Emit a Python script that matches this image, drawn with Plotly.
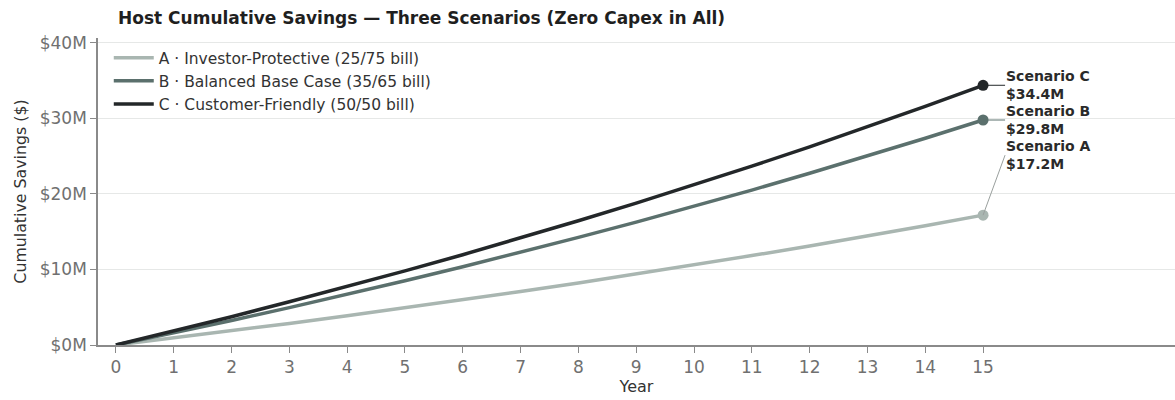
import plotly.graph_objects as go

years = list(range(0, 16))
scenario_a = [0, 0.92, 1.88, 2.86, 3.87, 4.91, 5.98, 7.09, 8.22, 9.40, 10.60, 11.84, 13.12, 14.44, 15.80, 17.20]
scenario_b = [0, 1.60, 3.25, 4.95, 6.70, 8.51, 10.36, 12.28, 14.25, 16.28, 18.37, 20.52, 22.74, 25.02, 27.38, 29.80]
scenario_c = [0, 1.85, 3.75, 5.72, 7.74, 9.82, 11.96, 14.17, 16.45, 18.79, 21.20, 23.69, 26.25, 28.89, 31.60, 34.40]

names = ["A · Investor-Protective (25/75 bill)",
         "B · Balanced Base Case (35/65 bill)",
         "C · Customer-Friendly (50/50 bill)"]
short = ["Scenario A", "Scenario B", "Scenario C"]
colors = ["#a9b6b1", "#5b706d", "#232729"]
series = [scenario_a, scenario_b, scenario_c]
y_ticks = [0, 10, 20, 30, 40]
y_tick_text = ["$0M", "$10M", "$20M", "$30M", "$40M"]

FONT = "DejaVu Sans, Open Sans, sans-serif"

fig = go.Figure()
for name, col, vals in zip(names, colors, series):
    fig.add_trace(go.Scatter(x=years, y=vals, mode="lines", name=name,
                             line=dict(color=col, width=3.5)))
for name, col, vals in zip(names, colors, series):
    fig.add_trace(go.Scatter(x=[years[-1]], y=[vals[-1]], mode="markers",
                             marker=dict(color=col, size=11), showlegend=False))

offsets = [(22, -60), (22, 0), (22, 0)]
for s, col, vals, (ax, ay) in zip(short, colors, series, offsets):
    fig.add_annotation(x=years[-1], y=vals[-1], xref="x", yref="y",
                       text=f"<b>{s}<br>${vals[-1]:.1f}M</b>",
                       showarrow=True, arrowhead=0, arrowwidth=1,
                       arrowcolor="#9aa09e" if s == "Scenario A" else col,
                       ax=ax, ay=ay, xanchor="left", yanchor="middle", align="left",
                       borderpad=0,
                       font=dict(family=FONT, size=14, color="#2a2a2a"))

fig.update_layout(
    width=1175, height=400,
    margin=dict(l=98, r=0, t=38, b=55),
    paper_bgcolor="white", plot_bgcolor="white",
    title=dict(text="<b>Host Cumulative Savings — Three Scenarios (Zero Capex in All)</b>",
               x=0.0186, xref="paper", xanchor="left", y=0.955, yanchor="middle",
               font=dict(family=FONT, size=17, color="#1f1f1f")),
    font=dict(family=FONT, color="#333"),
    legend=dict(x=0.01, y=0.99, xanchor="left", yanchor="top",
                bgcolor="rgba(255,255,255,0)", font=dict(size=15.5, color="#333"),
                tracegroupgap=0, itemwidth=40),
    showlegend=True,
)
fig.update_xaxes(range=[-0.31, 18.32], tickmode="array", tickvals=years,
                 showgrid=False, zeroline=False, showline=True, linecolor="#8a8a8a", linewidth=1.5,
                 ticks="outside", ticklen=6, tickcolor="#8a8a8a",
                 tickfont=dict(size=17, color="#707070"),
                 title=dict(text="Year", font=dict(size=16, color="#333"), standoff=4))
fig.update_yaxes(range=[0, 40.66], tickvals=y_ticks, ticktext=y_tick_text,
                 showgrid=True, gridcolor="#e6e8e7", gridwidth=1, zeroline=False,
                 showline=True, linecolor="#8a8a8a", linewidth=1.5,
                 ticks="outside", ticklen=6, tickcolor="#8a8a8a",
                 tickfont=dict(size=17, color="#707070"),
                 title=dict(text="Cumulative Savings ($)", font=dict(size=15.8, color="#333"), standoff=9))

fig.write_html("out.html")
